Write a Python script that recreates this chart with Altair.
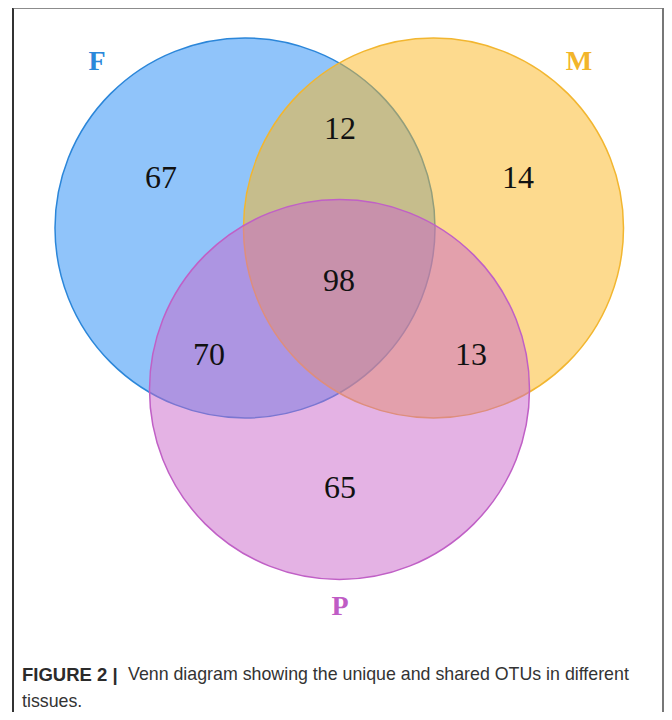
import altair as alt
import pandas as pd

# ---- data ----
set_names = ["F", "M", "P"]
region_names = ["F only", "F∩M", "M only", "F∩M∩P", "F∩P", "M∩P", "P only"]
region_counts = [67, 12, 14, 98, 70, 13, 65]
caption_bold = "FIGURE 2 |"
caption_line1 = "Venn diagram showing the unique and shared OTUs in different"
caption_line2 = "tissues."

# ---- layout (page pixel coordinates) ----
set_cx = [245, 433.5, 339.5]
set_cy = [228, 228, 389.5]
label_x = [97, 579, 340]
label_y = [62, 62, 607]
region_x = [161, 340, 518, 339, 209, 471, 340]
region_y = [178, 129, 178, 281, 355, 355, 488]
fill_colors = ["#2189F5", "#FBB51D", "#C965C9"]
stroke_colors = ["#2B86D9", "#F2B630", "#C060C6"]
label_colors = ["#2B88DA", "#F2B52A", "#BF5CC5"]

W, H = 656, 704
xs = alt.Scale(domain=[8, 8 + W], nice=False, zero=False)
ys = alt.Scale(domain=[8, 8 + H], nice=False, zero=False, reverse=True)

sets_df = pd.DataFrame({
    "set": set_names, "cx": set_cx, "cy": set_cy, "idx": [0, 1, 2],
    "fill": fill_colors, "stroke": stroke_colors,
    "lx": label_x, "ly": label_y, "lcolor": label_colors,
})
regions_df = pd.DataFrame({"region": region_names, "count": region_counts,
                           "x": region_x, "y": region_y})
cap_df = pd.DataFrame({"text": [caption_bold, caption_line1, caption_line2],
                       "x": [22, 128, 22], "y": [675, 675, 702],
                       "bold": [True, False, False]})

circles = alt.Chart(sets_df).mark_point(
    shape="circle", filled=True, fillOpacity=0.5, strokeOpacity=1, strokeWidth=1.5,
    size=380 * 380
).encode(
    x=alt.X("cx:Q", scale=xs, axis=None),
    y=alt.Y("cy:Q", scale=ys, axis=None),
    fill=alt.Fill("fill:N", scale=None),
    stroke=alt.Stroke("stroke:N", scale=None),
    order=alt.Order("idx:Q"),
)

labels = alt.Chart(sets_df).mark_text(
    font="Liberation Serif", fontWeight="bold", fontSize=28, baseline="middle", align="center"
).encode(
    x=alt.X("lx:Q", scale=xs, axis=None),
    y=alt.Y("ly:Q", scale=ys, axis=None),
    text="set:N",
    color=alt.Color("lcolor:N", scale=None),
)

counts = alt.Chart(regions_df).mark_text(
    font="Liberation Serif", fontSize=32, baseline="middle", align="center", color="#111111"
).encode(
    x=alt.X("x:Q", scale=xs, axis=None),
    y=alt.Y("y:Q", scale=ys, axis=None),
    text="count:Q",
)

cap_b = alt.Chart(cap_df).transform_filter("datum.bold").mark_text(
    font="Liberation Sans", fontWeight="bold", fontSize=18.5, baseline="middle", align="left",
    color="#2b2b2b"
).encode(
    x=alt.X("x:Q", scale=xs, axis=None),
    y=alt.Y("y:Q", scale=ys, axis=None),
    text="text:N",
)
cap_r = alt.Chart(cap_df).transform_filter("!datum.bold").mark_text(
    font="Liberation Sans", fontSize=17.8, baseline="middle", align="left",
    color="#333333"
).encode(
    x=alt.X("x:Q", scale=xs, axis=None),
    y=alt.Y("y:Q", scale=ys, axis=None),
    text="text:N",
)

frame_df = pd.DataFrame({"side": ["left", "top", "right"]})
left = alt.Chart(frame_df).transform_filter("datum.side=='left'").mark_rule(
    color="#333333", strokeWidth=2).encode(x=alt.value(5), y=alt.value(-1), y2=alt.value(H + 2))
top = alt.Chart(frame_df).transform_filter("datum.side=='top'").mark_rule(
    color="#666666", strokeWidth=1.5).encode(x=alt.value(5), x2=alt.value(W), y=alt.value(0))
right = alt.Chart(frame_df).transform_filter("datum.side=='right'").mark_rule(
    color="#777777", strokeWidth=2).encode(x=alt.value(W - 1), y=alt.value(0), y2=alt.value(H + 2))

chart = alt.layer(circles, labels, counts, cap_b, cap_r, left, top, right).properties(
    width=W, height=H, padding=0, autosize=alt.AutoSizeParams(type="none"),
    background="white"
).configure_view(stroke=None)

chart.save("out.html", embed_options={"renderer": "svg", "actions": False})
